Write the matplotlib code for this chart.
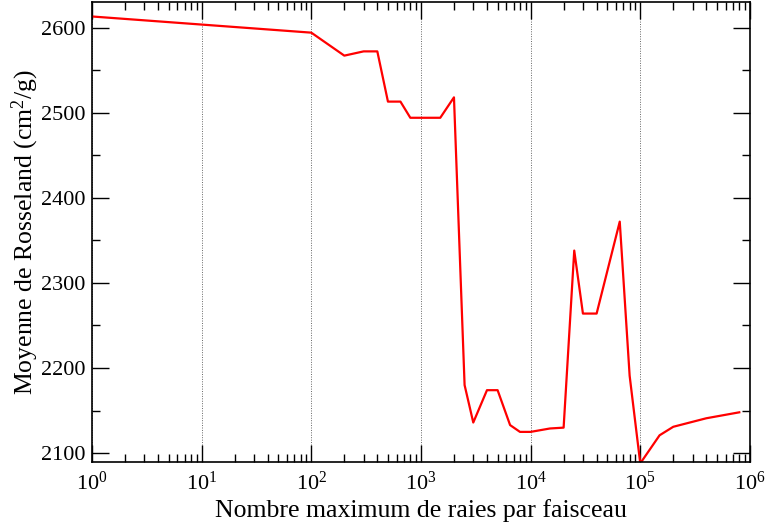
import matplotlib
matplotlib.use("Agg")
import matplotlib.pyplot as plt
import matplotlib.ticker as mticker

# Nombre de raies par faisceau vs moyenne de Rosseland
n_raies = [1, 100, 200, 300, 400, 500, 650, 800, 1500, 2000, 2500, 3000,
           4000, 5000, 6500, 8000, 10000, 15000, 20000, 25000, 30000, 40000,
           65000, 80000, 100000, 150000, 200000, 400000, 800000]
rosseland = [2613, 2594, 2567, 2572, 2572, 2513, 2513, 2494, 2494, 2518, 2180, 2136,
             2174, 2174, 2133, 2125, 2125, 2129, 2130, 2338, 2264, 2264,
             2372, 2191, 2088, 2121, 2131, 2141, 2148]

plt.rcParams['font.family'] = ['Liberation Serif', 'DejaVu Serif']
plt.rcParams['mathtext.fontset'] = 'custom'
plt.rcParams['mathtext.rm'] = 'Liberation Serif'
plt.rcParams['mathtext.it'] = 'Liberation Serif:italic'

fig = plt.figure(figsize=(7.66, 5.28), dpi=100)
ax = fig.add_axes([0.1201, 0.1256, 0.8589, 0.8706])

ax.plot(n_raies, rosseland, color='red', lw=1.6)
ax.set_xscale('log')
ax.set_xlim(1, 1e6)
ax.set_ylim(2090, 2630)

ax.yaxis.set_major_locator(mticker.MultipleLocator(100))
ax.yaxis.set_minor_locator(mticker.MultipleLocator(50))
ax.xaxis.set_major_locator(mticker.LogLocator(base=10, numticks=10))
ax.xaxis.set_minor_locator(mticker.LogLocator(base=10, subs=range(2, 10), numticks=20))
ax.xaxis.set_minor_formatter(mticker.NullFormatter())

ax.tick_params(which='both', direction='in', top=True, right=True, labelsize=16, width=1)
ax.tick_params(which='major', length=12)
ax.tick_params(which='minor', length=6)
ax.tick_params(axis='x', which='major', pad=7)
ax.tick_params(axis='y', which='major', pad=5)

ax.grid(True, axis='x', which='major', color='#666666', ls=(0, (1, 1.5)), lw=0.7)

for s in ax.spines.values():
    s.set_linewidth(1.2)

ax.set_xlabel("Nombre maximum de raies par faisceau", fontsize=18.5, labelpad=3)
ax.set_ylabel("Moyenne de Rosseland (cm$^2$/g)", fontsize=18.5, labelpad=0)

fig.savefig("out.png", dpi=100)
